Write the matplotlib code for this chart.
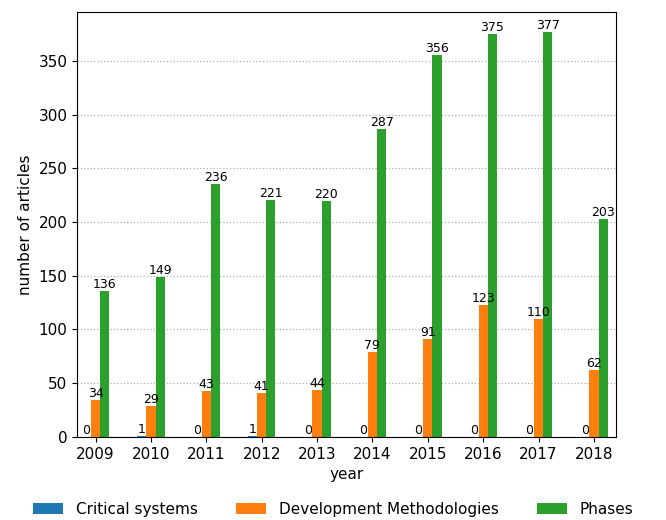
import numpy as np
import matplotlib.pyplot as plt

years = ["2009", "2010", "2011", "2012", "2013", "2014", "2015", "2016", "2017", "2018"]
critical = [0, 1, 0, 1, 0, 0, 0, 0, 0, 0]
methodologies = [34, 29, 43, 41, 44, 79, 91, 123, 110, 62]
phases = [136, 149, 236, 221, 220, 287, 356, 375, 377, 203]

series = [
    ("Critical systems", critical, "#1f77b4"),
    ("Development Methodologies", methodologies, "#ff7f0e"),
    ("Phases", phases, "#2ca02c"),
]

fig = plt.figure(figsize=(6.66, 5.2), dpi=100)
ax = fig.add_axes([0.116, 0.16, 0.809, 0.817])

x = np.arange(len(years))
w = 0.5 / len(series)
for i, (name, vals, color) in enumerate(series):
    bars = ax.bar(x + (i - 1) * w, vals, w, label=name, color=color)
    ax.bar_label(bars, labels=[str(v) for v in vals], fontsize=9, padding=0)

ax.set_xticks(x)
ax.set_xticklabels(years, fontsize=11)
ax.tick_params(axis="y", labelsize=11)
ax.set_xlim(-0.33, 9.4)
ax.set_ylim(0, max(phases) * 1.05)
ax.set_xlabel("year", fontsize=11)
ax.set_ylabel("number of articles", fontsize=11)
ax.yaxis.grid(True, linestyle=":", color="#b0b0b0", linewidth=0.9)
ax.set_axisbelow(True)

fig.legend(loc="lower center", ncol=3, frameon=False, fontsize=11,
           bbox_to_anchor=(0.5, -0.02), columnspacing=2.5)

fig.savefig("out.png", dpi=100)
